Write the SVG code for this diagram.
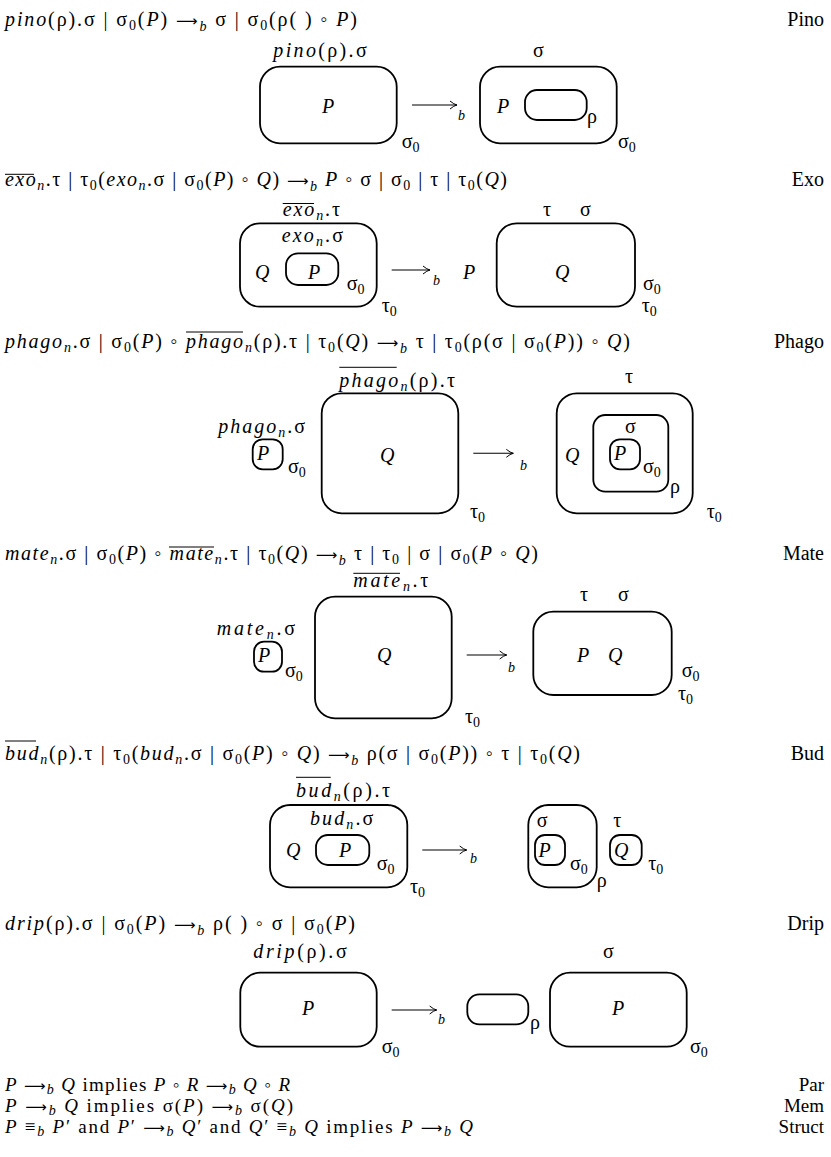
<svg xmlns="http://www.w3.org/2000/svg" width="831" height="1157" viewBox="0 0 831 1157">
<style>
.m{font-family:"Liberation Serif","DejaVu Serif",serif;font-size:20px;fill:#000}
.r{font-size:19px}
.i{font-style:italic}
.s{font-size:14px}
.ar{font-family:"DejaVu Sans",sans-serif;font-size:15px}
.box{fill:none;stroke:#000;stroke-width:1.8}
.ol{stroke:#000;stroke-width:1}
.arr{fill:none;stroke:#000;stroke-width:1.1;marker-end:url(#ah)}
.lab{text-anchor:end}
</style>
<defs>
<marker id="ah" markerUnits="userSpaceOnUse" markerWidth="12" markerHeight="12" viewBox="-9 -6 12 12" refX="0" refY="0" orient="auto">
<path d="M-7,-4 Q-3,-0.6 0,0 Q-3,0.6 -7,4" fill="none" stroke="#000" stroke-width="1"/>
</marker>
</defs>
<rect width="831" height="1157" fill="#fff"/>

<!-- ===== Formulas ===== -->
<g id="formulas">
<text class="m" x="5" y="26" textLength="352" lengthAdjust="spacing"><tspan class="i">pino</tspan>(ρ).σ | σ<tspan class="s" dy="4">0</tspan><tspan dy="-4">(</tspan><tspan class="i">P</tspan>) <tspan class="ar">⟶</tspan><tspan class="s i" dy="5">b</tspan><tspan dy="-5"> σ | σ</tspan><tspan class="s" dy="4">0</tspan><tspan dy="-4">(ρ( ) ◦ </tspan><tspan class="i">P</tspan>)</text>
<text class="m lab" x="824" y="26">Pino</text>

<text class="m" x="5" y="186" textLength="502" lengthAdjust="spacing"><tspan class="i">exo</tspan><tspan class="s i" dy="4">n</tspan><tspan dy="-4">.τ | τ</tspan><tspan class="s" dy="4">0</tspan><tspan dy="-4">(</tspan><tspan class="i">exo</tspan><tspan class="s i" dy="4">n</tspan><tspan dy="-4">.σ | σ</tspan><tspan class="s" dy="4">0</tspan><tspan dy="-4">(</tspan><tspan class="i">P</tspan>) ◦ <tspan class="i">Q</tspan>) <tspan class="ar">⟶</tspan><tspan class="s i" dy="5">b</tspan><tspan dy="-5"> </tspan><tspan class="i">P</tspan> ◦ σ | σ<tspan class="s" dy="4">0</tspan><tspan dy="-4"> | τ | τ</tspan><tspan class="s" dy="4">0</tspan><tspan dy="-4">(</tspan><tspan class="i">Q</tspan>)</text>
<line class="ol" x1="5" y1="174.3" x2="34" y2="174.3"/>
<text class="m lab" x="824" y="186">Exo</text>

<text class="m" x="5" y="348" textLength="625" lengthAdjust="spacing"><tspan class="i">phago</tspan><tspan class="s i" dy="4">n</tspan><tspan dy="-4">.σ | σ</tspan><tspan class="s" dy="4">0</tspan><tspan dy="-4">(</tspan><tspan class="i">P</tspan>) ◦ <tspan class="i">phago</tspan><tspan class="s i" dy="4">n</tspan><tspan dy="-4">(ρ).τ | τ</tspan><tspan class="s" dy="4">0</tspan><tspan dy="-4">(</tspan><tspan class="i">Q</tspan>) <tspan class="ar">⟶</tspan><tspan class="s i" dy="5">b</tspan><tspan dy="-5"> τ | τ</tspan><tspan class="s" dy="4">0</tspan><tspan dy="-4">(ρ(σ | σ</tspan><tspan class="s" dy="4">0</tspan><tspan dy="-4">(</tspan><tspan class="i">P</tspan>)) ◦ <tspan class="i">Q</tspan>)</text>
<line class="ol" x1="186" y1="332" x2="243" y2="332"/>
<text class="m lab" x="824" y="348">Phago</text>

<text class="m" x="5" y="560" textLength="533" lengthAdjust="spacing"><tspan class="i">mate</tspan><tspan class="s i" dy="4">n</tspan><tspan dy="-4">.σ | σ</tspan><tspan class="s" dy="4">0</tspan><tspan dy="-4">(</tspan><tspan class="i">P</tspan>) ◦ <tspan class="i">mate</tspan><tspan class="s i" dy="4">n</tspan><tspan dy="-4">.τ | τ</tspan><tspan class="s" dy="4">0</tspan><tspan dy="-4">(</tspan><tspan class="i">Q</tspan>) <tspan class="ar">⟶</tspan><tspan class="s i" dy="5">b</tspan><tspan dy="-5"> τ | τ</tspan><tspan class="s" dy="4">0</tspan><tspan dy="-4"> | σ | σ</tspan><tspan class="s" dy="4">0</tspan><tspan dy="-4">(</tspan><tspan class="i">P</tspan> ◦ <tspan class="i">Q</tspan>)</text>
<line class="ol" x1="169" y1="547" x2="214" y2="547"/>
<text class="m lab" x="824" y="560">Mate</text>

<text class="m" x="5" y="760" textLength="575" lengthAdjust="spacing"><tspan class="i">bud</tspan><tspan class="s i" dy="4">n</tspan><tspan dy="-4">(ρ).τ | τ</tspan><tspan class="s" dy="4">0</tspan><tspan dy="-4">(</tspan><tspan class="i">bud</tspan><tspan class="s i" dy="4">n</tspan><tspan dy="-4">.σ | σ</tspan><tspan class="s" dy="4">0</tspan><tspan dy="-4">(</tspan><tspan class="i">P</tspan>) ◦ <tspan class="i">Q</tspan>) <tspan class="ar">⟶</tspan><tspan class="s i" dy="5">b</tspan><tspan dy="-5"> ρ(σ | σ</tspan><tspan class="s" dy="4">0</tspan><tspan dy="-4">(</tspan><tspan class="i">P</tspan>)) ◦ τ | τ<tspan class="s" dy="4">0</tspan><tspan dy="-4">(</tspan><tspan class="i">Q</tspan>)</text>
<line class="ol" x1="5" y1="741" x2="36" y2="741"/>
<text class="m lab" x="824" y="760">Bud</text>

<text class="m" x="5" y="930" textLength="350" lengthAdjust="spacing"><tspan class="i">drip</tspan>(ρ).σ | σ<tspan class="s" dy="4">0</tspan><tspan dy="-4">(</tspan><tspan class="i">P</tspan>) <tspan class="ar">⟶</tspan><tspan class="s i" dy="5">b</tspan><tspan dy="-5"> ρ( ) ◦ σ | σ</tspan><tspan class="s" dy="4">0</tspan><tspan dy="-4">(</tspan><tspan class="i">P</tspan>)</text>
<text class="m lab" x="824" y="930">Drip</text>

<text class="m r" x="5" y="1091" textLength="285" lengthAdjust="spacing"><tspan class="i">P</tspan> <tspan class="ar">⟶</tspan><tspan class="s i" dy="3">b</tspan><tspan dy="-3"> </tspan><tspan class="i">Q</tspan> implies <tspan class="i">P</tspan> ◦ <tspan class="i">R</tspan> <tspan class="ar">⟶</tspan><tspan class="s i" dy="3">b</tspan><tspan dy="-3"> </tspan><tspan class="i">Q</tspan> ◦ <tspan class="i">R</tspan></text>
<text class="m r lab" x="824" y="1091">Par</text>
<text class="m r" x="5" y="1112" textLength="288" lengthAdjust="spacing"><tspan class="i">P</tspan> <tspan class="ar">⟶</tspan><tspan class="s i" dy="3">b</tspan><tspan dy="-3"> </tspan><tspan class="i">Q</tspan> implies σ(<tspan class="i">P</tspan>) <tspan class="ar">⟶</tspan><tspan class="s i" dy="3">b</tspan><tspan dy="-3"> σ(</tspan><tspan class="i">Q</tspan>)</text>
<text class="m r lab" x="824" y="1112">Mem</text>
<text class="m r" x="5" y="1133" textLength="468" lengthAdjust="spacing"><tspan class="i">P</tspan> ≡<tspan class="s i" dy="3">b</tspan><tspan dy="-3"> </tspan><tspan class="i">P</tspan>′ and <tspan class="i">P</tspan>′ <tspan class="ar">⟶</tspan><tspan class="s i" dy="3">b</tspan><tspan dy="-3"> </tspan><tspan class="i">Q</tspan>′ and <tspan class="i">Q</tspan>′ ≡<tspan class="s i" dy="3">b</tspan><tspan dy="-3"> </tspan><tspan class="i">Q</tspan> implies <tspan class="i">P</tspan> <tspan class="ar">⟶</tspan><tspan class="s i" dy="3">b</tspan><tspan dy="-3"> </tspan><tspan class="i">Q</tspan></text>
<text class="m r lab" x="824" y="1133">Struct</text>
</g>

<!-- ===== Pino ===== -->
<g id="pino-left">
<text class="m i" x="273.3" y="57" textLength="93.4" lengthAdjust="spacing">pino<tspan font-style="normal">(ρ).σ</tspan></text>
<rect class="box" x="260" y="66.7" width="136.7" height="76.6" rx="20"/>
<text class="m i" x="322" y="113.3">P</text>
<text class="m" x="401.7" y="148.3">σ<tspan class="s" dy="4">0</tspan></text>
</g>
<g id="pino-right">
<text class="m" x="533" y="57">σ</text>
<rect class="box" x="480" y="66.7" width="136.7" height="76.6" rx="20"/>
<text class="m i" x="497" y="113.3">P</text>
<text class="m" x="618" y="148.3">σ<tspan class="s" dy="4">0</tspan></text>
</g>
<g id="pino-rho">
<rect class="box" x="525" y="90" width="61.7" height="30" rx="12"/>
<text class="m" x="587" y="123">ρ</text>
</g>

<!-- ===== Exo ===== -->
<g id="exo-outer">
<text class="m" x="282.7" y="215.5" textLength="57.3" lengthAdjust="spacing"><tspan class="i">exo</tspan><tspan class="s i" dy="4">n</tspan><tspan dy="-4">.τ</tspan></text>
<line class="ol" x1="282.7" y1="203.5" x2="314" y2="203.5"/>
<rect class="box" x="240" y="223.3" width="136.7" height="83.4" rx="20"/>
<text class="m i" x="255" y="279">Q</text>
<text class="m" x="381.7" y="311.7">τ<tspan class="s" dy="4">0</tspan></text>
</g>
<g id="exo-inner">
<text class="m" x="281.7" y="241.7" textLength="61.3" lengthAdjust="spacing"><tspan class="i">exo</tspan><tspan class="s i" dy="4">n</tspan><tspan dy="-4">.σ</tspan></text>
<rect class="box" x="286" y="253.3" width="52.3" height="31.7" rx="12"/>
<text class="m i" x="308" y="279">P</text>
<text class="m" x="346.7" y="290">σ<tspan class="s" dy="4">0</tspan></text>
</g>
<g id="exo-result">
<text class="m i" x="463" y="279">P</text>
<text class="m" x="543" y="215.5">τ</text>
<text class="m" x="580" y="215.5">σ</text>
<rect class="box" x="496.7" y="223.3" width="138.3" height="83.4" rx="20"/>
<text class="m i" x="555" y="279">Q</text>
<text class="m" x="643" y="290">σ<tspan class="s" dy="4">0</tspan></text>
<text class="m" x="641.7" y="311.7">τ<tspan class="s" dy="4">0</tspan></text>
</g>

<!-- ===== Phago ===== -->
<g id="phago-p">
<text class="m" x="218.3" y="433.3" textLength="86.7" lengthAdjust="spacing"><tspan class="i">phago</tspan><tspan class="s i" dy="4">n</tspan><tspan dy="-4">.σ</tspan></text>
<rect class="box" x="252.7" y="439.3" width="30" height="30" rx="10"/>
<text class="m i" x="257" y="460">P</text>
<text class="m" x="288" y="473.3">σ<tspan class="s" dy="4">0</tspan></text>
</g>
<g id="phago-q">
<text class="m" x="339.3" y="386.7" textLength="115.7" lengthAdjust="spacing"><tspan class="i">phago</tspan><tspan class="s i" dy="4">n</tspan><tspan dy="-4">(ρ).τ</tspan></text>
<line class="ol" x1="339.3" y1="367.3" x2="396.7" y2="367.3"/>
<rect class="box" x="321.7" y="393.3" width="136.6" height="120" rx="20"/>
<text class="m i" x="380" y="461.7">Q</text>
<text class="m" x="470" y="518.3">τ<tspan class="s" dy="4">0</tspan></text>
</g>
<g id="phago-result">
<text class="m" x="625" y="383.3">τ</text>
<rect class="box" x="556.7" y="393.3" width="136" height="120" rx="20"/>
<text class="m i" x="565" y="461.7">Q</text>
<text class="m" x="706.7" y="518.3">τ<tspan class="s" dy="4">0</tspan></text>
</g>
<g id="phago-rho">
<rect class="box" x="593.3" y="415" width="75" height="76.7" rx="12"/>
<text class="m" x="625" y="433.3">σ</text>
<text class="m" x="670" y="493.3">ρ</text>
</g>
<g id="phago-result-p">
<rect class="box" x="610" y="439.3" width="30" height="30" rx="10"/>
<text class="m i" x="614" y="460">P</text>
<text class="m" x="643" y="473.3">σ<tspan class="s" dy="4">0</tspan></text>
</g>

<!-- ===== Mate ===== -->
<g id="mate-p">
<text class="m" x="216.7" y="635" textLength="78.3" lengthAdjust="spacing"><tspan class="i">mate</tspan><tspan class="s i" dy="4">n</tspan><tspan dy="-4">.σ</tspan></text>
<rect class="box" x="254" y="641.7" width="28" height="30" rx="10"/>
<text class="m i" x="258" y="662">P</text>
<text class="m" x="285" y="677">σ<tspan class="s" dy="4">0</tspan></text>
</g>
<g id="mate-q">
<text class="m" x="353.3" y="586.7" textLength="75" lengthAdjust="spacing"><tspan class="i">mate</tspan><tspan class="s i" dy="4">n</tspan><tspan dy="-4">.τ</tspan></text>
<line class="ol" x1="353.3" y1="573.3" x2="400" y2="573.3"/>
<rect class="box" x="315" y="596.7" width="136.7" height="121.6" rx="20"/>
<text class="m i" x="377" y="661.7">Q</text>
<text class="m" x="465" y="723.3">τ<tspan class="s" dy="4">0</tspan></text>
</g>
<g id="mate-result">
<text class="m" x="580" y="600.7">τ</text>
<text class="m" x="618" y="600.7">σ</text>
<rect class="box" x="533.3" y="611.7" width="138.4" height="83.3" rx="20"/>
<text class="m i" x="577" y="661.7">P</text>
<text class="m i" x="608" y="661.7">Q</text>
<text class="m" x="681.7" y="677.3">σ<tspan class="s" dy="4">0</tspan></text>
<text class="m" x="678" y="700">τ<tspan class="s" dy="4">0</tspan></text>
</g>

<!-- ===== Bud ===== -->
<g id="bud-outer">
<text class="m" x="296" y="796.7" textLength="94" lengthAdjust="spacing"><tspan class="i">bud</tspan><tspan class="s i" dy="4">n</tspan><tspan dy="-4">(ρ).τ</tspan></text>
<line class="ol" x1="296" y1="777.3" x2="330.7" y2="777.3"/>
<rect class="box" x="270" y="805" width="137.3" height="82.3" rx="20"/>
<text class="m i" x="286" y="856.7">Q</text>
<text class="m" x="410" y="893.3">τ<tspan class="s" dy="4">0</tspan></text>
</g>
<g id="bud-inner">
<text class="m" x="310" y="825" textLength="63.3" lengthAdjust="spacing"><tspan class="i">bud</tspan><tspan class="s i" dy="4">n</tspan><tspan dy="-4">.σ</tspan></text>
<rect class="box" x="316" y="835" width="53.3" height="30" rx="12"/>
<text class="m i" x="339" y="856.7">P</text>
<text class="m" x="376.7" y="870">σ<tspan class="s" dy="4">0</tspan></text>
</g>
<g id="bud-rho">
<rect class="box" x="528.3" y="805" width="68.4" height="82.3" rx="20"/>
<text class="m" x="536.7" y="826.7">σ</text>
<text class="m" x="596.7" y="886.7">ρ</text>
</g>
<g id="bud-p">
<rect class="box" x="535" y="835" width="30" height="30" rx="10"/>
<text class="m i" x="538.5" y="856.7">P</text>
<text class="m" x="570" y="870">σ<tspan class="s" dy="4">0</tspan></text>
</g>
<g id="bud-q">
<text class="m" x="613.3" y="826.7">τ</text>
<rect class="box" x="610" y="835" width="31.7" height="30" rx="10"/>
<text class="m i" x="614" y="856.7">Q</text>
<text class="m" x="648.3" y="870">τ<tspan class="s" dy="4">0</tspan></text>
</g>

<!-- ===== Drip ===== -->
<g id="drip-left">
<text class="m i" x="253.3" y="958.3" textLength="93.4" lengthAdjust="spacing">drip<tspan font-style="normal">(ρ).σ</tspan></text>
<rect class="box" x="240.3" y="972.7" width="136.4" height="74" rx="20"/>
<text class="m i" x="302" y="1015">P</text>
<text class="m" x="381.7" y="1053.3">σ<tspan class="s" dy="4">0</tspan></text>
</g>
<g id="drip-rho">
<rect class="box" x="467.3" y="994.3" width="61" height="30" rx="12"/>
<text class="m" x="530" y="1029">ρ</text>
</g>
<g id="drip-right">
<text class="m" x="603" y="958.3">σ</text>
<rect class="box" x="550" y="972.7" width="136.7" height="74" rx="20"/>
<text class="m i" x="612" y="1015">P</text>
<text class="m" x="690" y="1053.3">σ<tspan class="s" dy="4">0</tspan></text>
</g>

<!-- ===== Connectors (reaction arrows) ===== -->
<g id="connectors">
<line class="arr" x1="412" y1="105" x2="457" y2="105"/>
<line class="arr" x1="391.7" y1="270" x2="430" y2="270"/>
<line class="arr" x1="473.3" y1="453.3" x2="513.3" y2="453.3"/>
<line class="arr" x1="466.7" y1="655" x2="506.7" y2="655"/>
<line class="arr" x1="422.3" y1="850" x2="466.7" y2="850"/>
<line class="arr" x1="391.7" y1="1010" x2="436.7" y2="1010"/>
</g>
<g id="arrow-labels">
<text class="m s i" x="458" y="120">b</text>
<text class="m s i" x="433" y="285">b</text>
<text class="m s i" x="520" y="470">b</text>
<text class="m s i" x="508" y="671.7">b</text>
<text class="m s i" x="470" y="863.3">b</text>
<text class="m s i" x="438" y="1024">b</text>
</g>
</svg>
